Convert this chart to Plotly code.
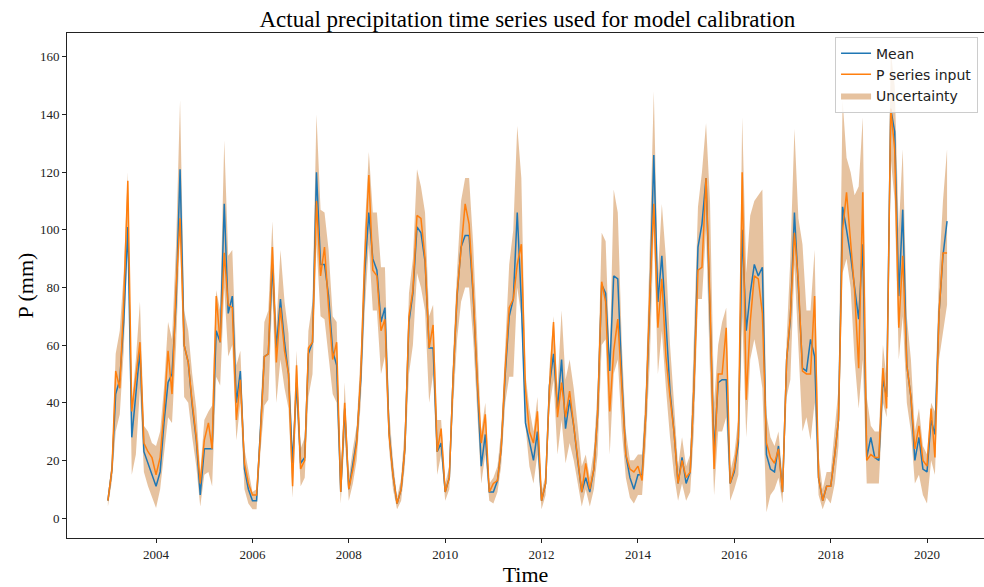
import pandas as pd
import plotly.graph_objects as go

# Monthly precipitation, Jan 2003 - Jun 2020
dates = pd.date_range("2003-01-01", periods=210, freq="MS")

mean_p = [
    6, 17, 43, 48, 68, 101, 28, 43, 58, 23, 19, 15,
    11, 16, 33, 47, 50, 75, 121, 60, 54, 39, 27, 8,
    24, 24, 24, 65, 61, 109, 71, 77, 40, 51, 17, 10,
    6, 6, 28, 56, 57, 88, 59, 76, 61, 50, 19, 47,
    19, 21, 57, 61, 120, 88, 88, 77, 58, 53, 9, 38,
    10, 19, 27, 48, 85, 106, 90, 86, 68, 73, 30, 15,
    5, 10, 24, 68, 78, 101, 99, 89, 59, 59, 23, 26,
    9, 14, 48, 77, 94, 98, 98, 77, 48, 18, 29, 9,
    9, 13, 24, 50, 70, 76, 106, 75, 33, 27, 20, 30,
    6, 12, 46, 57, 38, 55, 31, 41, 32, 20, 9, 14,
    9, 17, 36, 81, 78, 51, 84, 83, 48, 22, 14, 10,
    15, 15, 36, 75, 126, 75, 91, 68, 44, 30, 12, 21,
    12, 16, 45, 94, 102, 118, 75, 23, 47, 48, 48, 12,
    16, 26, 100, 65, 78, 88, 84, 87, 22, 17, 16, 25,
    9, 55, 69, 106, 80, 52, 51, 62, 56, 14, 6, 11,
    11, 22, 34, 108, 100, 91, 80, 69, 95, 21, 28, 21,
    20, 48, 42, 142, 134, 77, 107, 53, 42, 20, 28, 17,
    16, 34, 29, 71, 91, 103,
]

p_input = [
    6, 17, 51, 45, 75, 117, 37, 48, 61, 26, 23, 21,
    15, 21, 37, 58, 43, 80, 104, 60, 54, 40, 28, 12,
    27, 33, 24, 77, 61, 92, 74, 73, 34, 48, 19, 12,
    8, 8, 28, 56, 57, 94, 54, 73, 58, 50, 11, 53,
    17, 20, 59, 61, 110, 84, 94, 73, 55, 61, 9, 40,
    10, 17, 26, 50, 90, 119, 86, 84, 65, 69, 29, 15,
    5, 10, 24, 70, 79, 105, 104, 90, 59, 67, 23, 31,
    9, 14, 48, 78, 94, 109, 102, 78, 48, 26, 36, 9,
    12, 13, 24, 52, 73, 76, 88, 95, 45, 30, 26, 37,
    6, 12, 45, 68, 35, 47, 35, 44, 32, 20, 9, 19,
    10, 17, 36, 82, 75, 37, 58, 69, 45, 22, 17, 16,
    18, 13, 36, 78, 109, 66, 83, 56, 42, 30, 12, 20,
    14, 16, 45, 86, 87, 118, 75, 17, 50, 50, 66, 12,
    17, 28, 120, 41, 68, 84, 83, 71, 26, 21, 19, 24,
    9, 55, 70, 99, 82, 51, 50, 50, 77, 14, 6, 11,
    11, 22, 34, 100, 113, 96, 79, 52, 113, 20, 22, 21,
    21, 52, 38, 142, 128, 66, 91, 53, 42, 24, 32, 20,
    18, 38, 21, 71, 92, 92,
]

lower = [
    4, 13, 30, 36, 58, 98, 15, 22, 45, 16, 11, 7,
    3.5, 10, 22, 35, 33, 60, 100, 42, 40, 28, 18, 4,
    15, 16, 11, 49, 46, 80, 56, 60, 27, 40, 10, 5,
    3, 3, 22, 39, 41, 78, 40, 55, 45, 38, 7, 40,
    11, 14, 42, 50, 95, 70, 69, 55, 43, 40, 5, 28,
    6, 12, 20, 40, 72, 95, 72, 72, 50, 56, 24, 10,
    3, 6, 18, 50, 60, 85, 80, 72, 40, 50, 15, 22,
    6, 10, 38, 62, 75, 80, 80, 62, 35, 12, 22, 6,
    5, 9, 18, 40, 49, 49, 80, 70, 32, 18, 12, 22,
    3, 8, 38, 48, 22, 34, 19, 26, 20, 12, 4, 10,
    4, 10, 22, 60, 62, 22, 50, 55, 30, 14, 7, 5,
    8, 8, 25, 55, 100, 50, 65, 45, 28, 15, 6, 12,
    6, 9, 30, 76, 76, 100, 50, 8, 30, 30, 35, 6,
    10, 15, 70, 28, 55, 62, 55, 45, 2, 8, 10, 14,
    5, 42, 48, 88, 60, 30, 35, 27, 40, 8, 3, 7,
    5, 12, 25, 85, 90, 80, 55, 38, 55, 12, 12, 12,
    12, 40, 35, 125, 110, 55, 70, 40, 30, 12, 15, 8,
    5, 20, 15, 55, 65, 74,
]

upper = [
    8, 20, 57, 65, 85, 120, 40, 55, 75, 32, 30, 26,
    25, 30, 45, 68, 62, 95, 145, 72, 65, 50, 38, 16,
    34, 37, 39, 79, 72, 131, 91, 93, 53, 58, 24, 16,
    9, 10, 34, 68, 72, 103, 66, 93, 75, 64, 22, 58,
    24, 28, 65, 75, 140, 107, 106, 93, 70, 68, 13, 47,
    14, 24, 32, 58, 100, 127, 106, 106, 87, 87, 38, 20,
    7, 14, 32, 78, 90, 121, 115, 106, 70, 74, 34, 34,
    12, 18, 56, 86, 110, 118, 118, 95, 60, 30, 40, 12,
    14, 18, 30, 62, 88, 100, 136, 118, 50, 38, 30, 42,
    9, 15, 52, 70, 45, 72, 48, 55, 45, 32, 18, 22,
    14, 24, 45, 99, 96, 55, 114, 106, 60, 30, 20, 20,
    22, 22, 45, 95, 148, 84, 109, 90, 60, 40, 18, 28,
    18, 22, 60, 108, 120, 137, 110, 40, 60, 68, 73, 16,
    22, 35, 139, 85, 105, 110, 112, 114, 36, 28, 25, 30,
    14, 62, 90, 135, 104, 95, 72, 72, 93, 22, 10, 16,
    16, 30, 45, 145, 125, 120, 112, 115, 139, 42, 32, 30,
    30, 60, 48, 162, 150, 100, 128, 70, 55, 30, 38, 25,
    22, 40, 37, 85, 110, 128,
]

year_ticks = [f"{y}-01-01" for y in range(2004, 2021, 2)]
year_labels = [str(y) for y in range(2004, 2021, 2)]
y_ticks = [0, 20, 40, 60, 80, 100, 120, 140, 160]

serif = "Liberation Serif, Times New Roman, serif"
band_color = "rgba(205,133,63,0.5)"

fig = go.Figure()

# uncertainty band (lower edge, then upper edge filled down to it)
fig.add_trace(go.Scatter(
    x=dates, y=lower, mode="lines", line=dict(width=0, color=band_color),
    showlegend=False, hoverinfo="skip",
))
fig.add_trace(go.Scatter(
    x=dates, y=upper, mode="lines", line=dict(width=0, color=band_color),
    fill="tonexty", fillcolor=band_color, name="Uncertainty", legendrank=3,
))
fig.add_trace(go.Scatter(
    x=dates, y=mean_p, mode="lines", line=dict(color="#1f77b4", width=1.5),
    name="Mean", legendrank=1,
))
fig.add_trace(go.Scatter(
    x=dates, y=p_input, mode="lines", line=dict(color="#ff7f0e", width=1.5),
    name="P series input", legendrank=2,
))

fig.update_layout(
    width=984, height=587,
    margin=dict(l=67, r=0, t=33, b=49),
    paper_bgcolor="white", plot_bgcolor="white",
    title=dict(
        text="Actual precipitation time series used for model calibration",
        x=0.536, xanchor="center", y=0.968, yanchor="middle",
        font=dict(family=serif, size=23, color="black"),
    ),
    legend=dict(
        x=0.9935, xanchor="right", y=0.993, yanchor="top",
        bgcolor="rgba(255,255,255,0.8)", bordercolor="#cccccc", borderwidth=1,
        font=dict(family="DejaVu Sans, sans-serif", size=14, color="#222"),
        traceorder="normal",
    ),
    showlegend=True,
)

fig.update_xaxes(
    type="date",
    range=["2002-02-25", "2021-03-08"],
    tickvals=year_ticks, ticktext=year_labels,
    ticks="outside", ticklen=4, tickwidth=1, tickcolor="#222",
    showline=True, linecolor="#222", linewidth=1, mirror=True,
    showgrid=False, zeroline=False,
    tickfont=dict(family=serif, size=13, color="#222"),
    title=dict(text="Time", font=dict(family=serif, size=22, color="black"), standoff=3),
)
fig.update_yaxes(
    range=[-6.94, 168.3],
    tickvals=y_ticks,
    ticks="outside", ticklen=4, tickwidth=1, tickcolor="#222",
    showline=True, linecolor="#222", linewidth=1, mirror=False,
    showgrid=False, zeroline=False,
    tickfont=dict(family=serif, size=13, color="#222"),
    title=dict(text="P (mm)", font=dict(family=serif, size=22, color="black"), standoff=0),
)

fig.write_html("out.html")
